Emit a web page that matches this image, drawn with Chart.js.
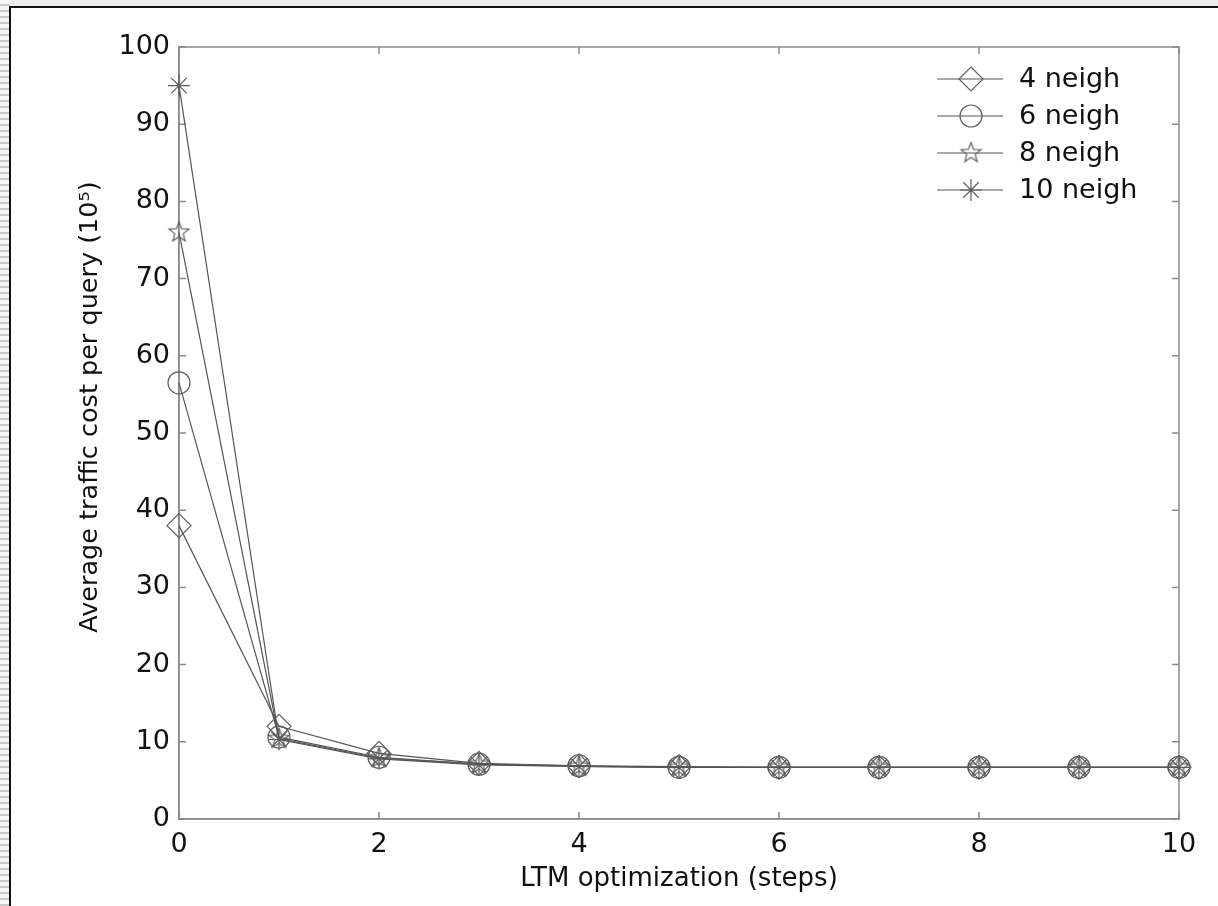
<!DOCTYPE html>
<html>
<head>
<meta charset="utf-8">
<title>LTM optimization traffic cost</title>
<script src="https://cdn.jsdelivr.net/npm/chart.js@4.4.1/dist/chart.umd.min.js"></script>
<style>
  html, body { margin: 0; padding: 0; }
  body { width: 1218px; height: 906px; position: relative; overflow: hidden; background: #ededed; }
  #strip { position: absolute; left: 0; top: 0; width: 9px; height: 906px;
           background: repeating-linear-gradient(to bottom, #f6f6f6 0px, #f6f6f6 4px, #c9c9c9 4px, #c9c9c9 6px); }
  #frame { position: absolute; left: 9px; top: 6px; width: 1209px; height: 900px; background: #fff;
           border-left: 2px solid #111; border-top: 2px solid #111; box-sizing: border-box; }
  #chart { position: absolute; left: 0; top: 0; }
</style>
</head>
<body>
<div id="strip"></div>
<div id="frame"></div>
<canvas id="chart" width="1218" height="906"></canvas>
<script>
// Optimization steps on the x axis
const steps = [0, 1, 2, 3, 4, 5, 6, 7, 8, 9, 10];

// Average traffic cost per query (x 10^5) for each neighbourhood size
const neigh4  = [38.0, 12.0, 8.5, 7.2, 6.9, 6.8, 6.7, 6.7, 6.7, 6.7, 6.7];
const neigh6  = [56.5, 10.6, 8.0, 7.1, 6.9, 6.7, 6.7, 6.7, 6.7, 6.7, 6.7];
const neigh8  = [76.0, 10.4, 7.9, 7.1, 6.8, 6.7, 6.7, 6.7, 6.7, 6.7, 6.7];
const neigh10 = [95.0, 10.3, 7.8, 7.0, 6.8, 6.7, 6.7, 6.7, 6.7, 6.7, 6.7];

const seriesNames = ['4 neigh', '6 neigh', '8 neigh', '10 neigh'];

// Tick values
const xTickValues = [0, 2, 4, 6, 8, 10];
const yTickValues = [0, 10, 20, 30, 40, 50, 60, 70, 80, 90, 100];

const xTitle = 'LTM optimization (steps)';
const yTitle = 'Average traffic cost per query (10\u2075)';

const FONT = '"DejaVu Sans", "Liberation Sans", Arial, sans-serif';
const LINE = '#555';
const MARK = '#5e5e5e';
const AXIS = '#8a8a8a';

// Five-pointed star marker, drawn once into a small canvas
function makeStar(r) {
  const size = Math.ceil(r * 2 + 4);
  const c = document.createElement('canvas');
  c.width = size; c.height = size;
  const g = c.getContext('2d');
  const cx = size / 2, cy = size / 2, inner = r * 0.42;
  g.beginPath();
  for (let k = 0; k < 10; k++) {
    const rad = k % 2 === 0 ? r : inner;
    const a = -Math.PI / 2 + k * Math.PI / 5;
    const px = cx + rad * Math.cos(a), py = cy + rad * Math.sin(a);
    if (k === 0) g.moveTo(px, py); else g.lineTo(px, py);
  }
  g.closePath();
  g.strokeStyle = MARK; g.lineWidth = 1.2; g.stroke();
  return c;
}
const starMarker = makeStar(10.5);

const seriesValues = [neigh4, neigh6, neigh8, neigh10];
const markerStyles = ['rectRot', 'circle', starMarker, 'star'];
const markerRadii = [12, 11, 10.5, 11];

const datasets = seriesValues.map((vals, i) => ({
  label: seriesNames[i],
  data: steps.map((s, j) => ({ x: s, y: vals[j] })),
  borderColor: LINE,
  borderWidth: 1.2,
  backgroundColor: 'rgba(0,0,0,0)',
  pointStyle: markerStyles[i],
  pointRadius: markerRadii[i],
  pointBorderColor: MARK,
  pointBorderWidth: 1.2,
  pointBackgroundColor: 'rgba(0,0,0,0)',
  tension: 0,
  clip: false
}));

// Plot box with inward tick marks on all four sides
const boxPlugin = {
  id: 'boxTicks',
  beforeDatasetsDraw(chart) {
    const { ctx, chartArea: a, scales } = chart;
    ctx.save();
    ctx.strokeStyle = AXIS;
    ctx.lineWidth = 1.5;
    ctx.strokeRect(a.left, a.top, a.right - a.left, a.bottom - a.top);
    const len = 7;
    ctx.beginPath();
    xTickValues.forEach(v => {
      const px = scales.x.getPixelForValue(v);
      ctx.moveTo(px, a.bottom); ctx.lineTo(px, a.bottom - len);
      ctx.moveTo(px, a.top); ctx.lineTo(px, a.top + len);
    });
    yTickValues.forEach(v => {
      const py = scales.y.getPixelForValue(v);
      ctx.moveTo(a.left, py); ctx.lineTo(a.left + len, py);
      ctx.moveTo(a.right, py); ctx.lineTo(a.right - len, py);
    });
    ctx.stroke();
    ctx.restore();
  }
};

// Marker shapes for the legend samples
function drawMarker(ctx, style, r, x, y) {
  ctx.save();
  ctx.strokeStyle = MARK;
  ctx.lineWidth = 1.2;
  if (style instanceof HTMLCanvasElement) {
    ctx.drawImage(style, x - style.width / 2, y - style.height / 2);
  } else if (style === 'rectRot') {
    ctx.beginPath();
    ctx.moveTo(x, y - r); ctx.lineTo(x + r, y); ctx.lineTo(x, y + r); ctx.lineTo(x - r, y);
    ctx.closePath(); ctx.stroke();
  } else if (style === 'circle') {
    ctx.beginPath(); ctx.arc(x, y, r, 0, Math.PI * 2); ctx.stroke();
  } else if (style === 'star') {
    ctx.beginPath();
    for (let k = 0; k < 4; k++) {
      const a = k * Math.PI / 4;
      ctx.moveTo(x - r * Math.cos(a), y - r * Math.sin(a));
      ctx.lineTo(x + r * Math.cos(a), y + r * Math.sin(a));
    }
    ctx.stroke();
  }
  ctx.restore();
}

// Legend in the upper right of the plot, plus the rotated y-axis title
const legendPlugin = {
  id: 'cornerLegend',
  afterDatasetsDraw(chart) {
    const { ctx } = chart;
    ctx.save();
    chart.data.datasets.forEach((ds, i) => {
      const y = 79 + i * 37;
      ctx.strokeStyle = LINE;
      ctx.lineWidth = 1.2;
      ctx.beginPath(); ctx.moveTo(937, y); ctx.lineTo(1003, y); ctx.stroke();
      drawMarker(ctx, ds.pointStyle, ds.pointRadius, 971, y);
      ctx.fillStyle = '#111';
      ctx.font = '27px ' + FONT;
      ctx.textAlign = 'left';
      ctx.textBaseline = 'middle';
      ctx.fillText(ds.label, 1019, y + 1);
    });
    ctx.translate(90, 407);
    ctx.rotate(-Math.PI / 2);
    ctx.fillStyle = '#111';
    ctx.font = '25.5px ' + FONT;
    ctx.textAlign = 'center';
    ctx.textBaseline = 'middle';
    ctx.fillText(yTitle, 0, 0);
    ctx.restore();
  }
};

new Chart(document.getElementById('chart'), {
  type: 'line',
  data: { datasets },
  options: {
    responsive: false,
    animation: false,
    devicePixelRatio: 1,
    layout: { padding: { left: 0, top: 47, right: 39, bottom: 0 } },
    plugins: { legend: { display: false }, tooltip: { enabled: false } },
    scales: {
      x: {
        type: 'linear',
        min: 0, max: 10,
        afterBuildTicks: s => { s.ticks = xTickValues.map(v => ({ value: v })); },
        afterFit: s => { s.height = 87; },
        grid: { display: true, drawOnChartArea: false, drawTicks: false },
        border: { display: true, color: AXIS, width: 1.5 },
        ticks: { color: '#111', font: { family: FONT, size: 27 }, padding: 10, maxRotation: 0 },
        title: { display: true, text: xTitle, color: '#111', font: { family: FONT, size: 26 }, padding: { top: 0, bottom: 11 } }
      },
      y: {
        type: 'linear',
        min: 0, max: 100,
        afterBuildTicks: s => { s.ticks = yTickValues.map(v => ({ value: v })); },
        afterFit: s => { s.width = 179; },
        grid: { display: true, drawOnChartArea: false, drawTicks: false },
        border: { display: true, color: AXIS, width: 1.5 },
        ticks: { color: '#111', font: { family: FONT, size: 27 }, padding: 9 }
      }
    }
  },
  plugins: [boxPlugin, legendPlugin]
});
</script>
</body>
</html>
